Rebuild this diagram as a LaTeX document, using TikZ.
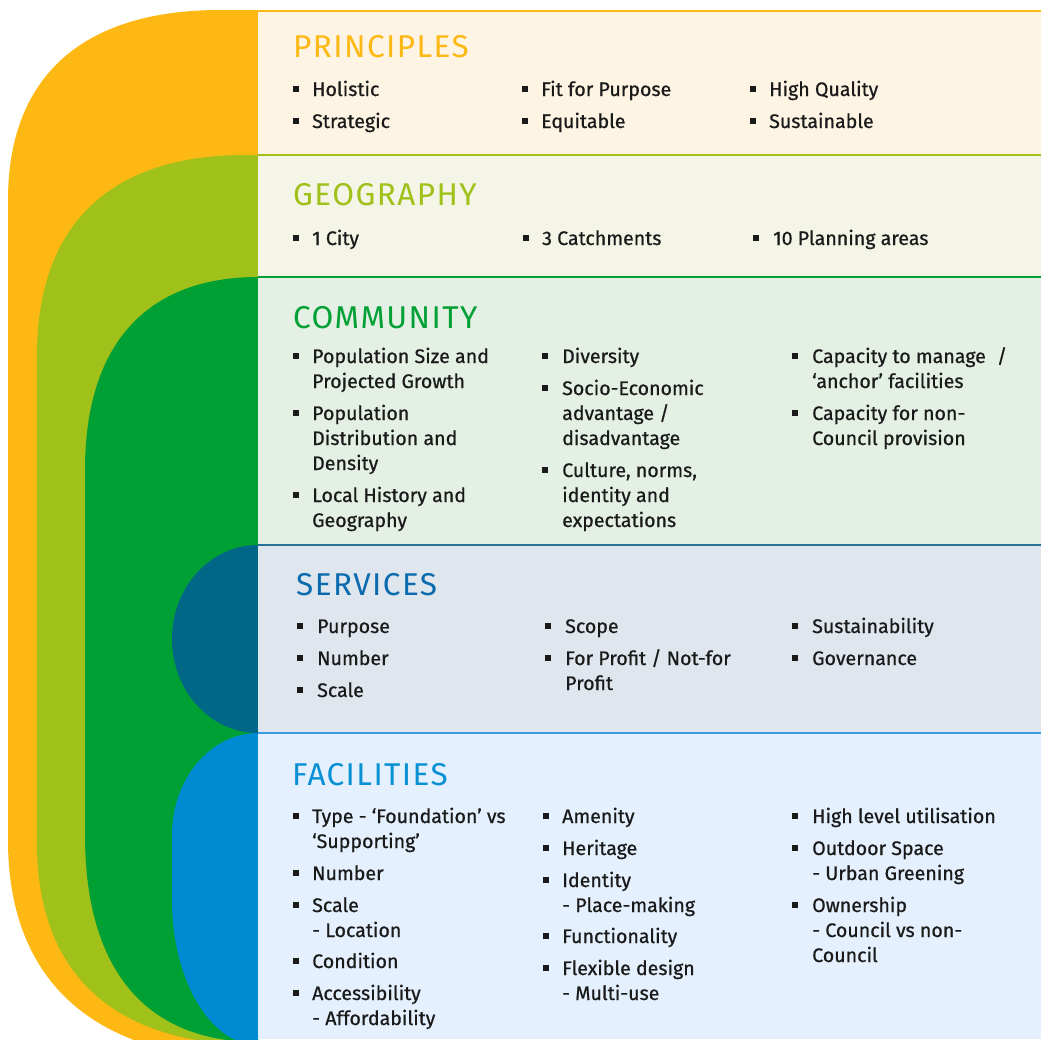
\documentclass[tikz,border=0pt]{standalone}
\usepackage{fontspec}
\setmainfont{Fira Sans}
\newfontfamily\bodyfont{Fira Sans}[FakeBold=0.7]
\newfontfamily\titlefont{Fira Sans}[LetterSpace=4.5]
\definecolor{cOrange}{HTML}{FDB813}
\definecolor{cLime}{HTML}{9FC119}
\definecolor{cGreen}{HTML}{00A035}
\definecolor{cTeal}{HTML}{006886}
\definecolor{cBlue}{HTML}{008AD2}
\definecolor{bgPrin}{HTML}{FEF4E4}
\definecolor{bgGeo}{HTML}{F4F5E7}
\definecolor{bgCom}{HTML}{E5F0E4}
\definecolor{bgSer}{HTML}{DFE6EE}
\definecolor{bgFac}{HTML}{E4F0FD}
\definecolor{tSer}{HTML}{0A6BAE}
\definecolor{tFac}{HTML}{0890D5}
\definecolor{lTeal}{HTML}{2A7396}
\definecolor{lBlue}{HTML}{3A9FE0}
\definecolor{txtcol}{HTML}{1A1A1A}
\newcounter{lc}
\newcommand\tx[3]{\stepcounter{lc}\node[bodytxt] (t\number\value{lc}) at (#1,#2) {#3};}
\newcommand\bu[2]{\fill[txtcol] (#1-3,#2-10) rectangle (#1+3,#2-4);}
\begin{document}
\begin{tikzpicture}[x=1pt,y=-1pt,
  bodytxt/.style={anchor=base west, inner sep=0pt, text=txtcol, font=\bodyfont\fontsize{19.6}{25}\selectfont},
  ttl/.style={anchor=base west, inner sep=0pt, font=\titlefont\fontsize{31.5}{31}\selectfont},
  sepline/.style={line width=1.8pt}]
\useasboundingbox (0,0) rectangle (1041,1039);
% left nested shapes
\fill[cOrange] (258,10) -- (220,10) .. controls (82,10) and (8,77) .. (8,200) -- (8,840)
  .. controls (8,983) and (96,1060) .. (258,1060) -- cycle;
\fill[cLime] (258,155) -- (245,155) .. controls (110,155) and (37,225) .. (37,355) -- (37,843)
  .. controls (37,974) and (114,1045) .. (258,1045) -- cycle;
\fill[cGreen] (258,277) .. controls (146,277) and (85,345) .. (85,470) -- (85,835)
  .. controls (85,970) and (146,1042) .. (258,1042) -- cycle;
\fill[cTeal] (258,545) .. controls (210.5,545) and (172,587) .. (172,639)
  .. controls (172,691) and (210.5,733) .. (258,733) -- cycle;
\fill[cBlue] (258,733) .. controls (210.5,733) and (172,779) .. (172,835) -- (172,900)
  .. controls (172,980) and (210.5,1045) .. (258,1045) -- cycle;
% panels
\fill[bgPrin] (258,10) rectangle (1041,155);
\fill[bgGeo] (258,155) rectangle (1041,277);
\fill[bgCom] (258,277) rectangle (1041,545);
\fill[bgSer] (258,545) rectangle (1041,733);
\fill[bgFac] (258,733) rectangle (1041,1039);
\draw[sepline, cOrange] (258,11) -- (1041,11);
\draw[sepline, cLime] (258,155) -- (1041,155);
\draw[sepline, cGreen] (258,277) -- (1041,277);
\draw[sepline, lTeal] (258,545) -- (1041,545);
\draw[sepline, lBlue] (258,733) -- (1041,733);
% titles
\node[ttl, text=cOrange] (tp) at (293,57) {PRINCIPLES};
\node[ttl, text=cLime] (tg) at (293,205) {GEOGRAPHY};
\node[ttl, text=cGreen] (tc) at (293,328) {COMMUNITY};
\node[ttl, text=tSer] (ts) at (296,595) {SERVICES};
\node[ttl, text=tFac] (tf) at (292,785) {FACILITIES};
% principles
\bu{296}{96}\tx{312}{96}{Holistic}
\bu{296}{128}\tx{312}{128}{Strategic}
\bu{525}{96}\tx{541}{96}{Fit for Purpose}
\bu{525}{128}\tx{541}{128}{Equitable}
\bu{753}{96}\tx{769}{96}{High Quality}
\bu{753}{128}\tx{769}{128}{Sustainable}
% geography
\bu{296}{245}\tx{312}{245}{1 City}
\bu{526}{245}\tx{542}{245}{3 Catchments}
\bu{756}{245}\tx{773}{245}{10 Planning areas}
% community
\bu{296}{363}\tx{312}{363}{Population Size and}
\tx{312}{388}{Projected Growth}
\bu{296}{420}\tx{312}{420}{Population}
\tx{312}{445}{Distribution and}
\tx{312}{470}{Density}
\bu{296}{502}\tx{312}{502}{Local History and}
\tx{312}{527}{Geography}
\bu{545}{363}\tx{562}{363}{Diversity}
\bu{545}{395}\tx{562}{395}{Socio-Economic}
\tx{562}{420}{advantage /}
\tx{562}{445}{disadvantage}
\bu{545}{477}\tx{562}{477}{Culture, norms,}
\tx{562}{502}{identity and}
\tx{562}{527}{expectations}
\bu{795}{363}\tx{812}{363}{Capacity to manage\hspace{0.3em} /}
\tx{812}{388}{‘anchor’ facilities}
\bu{795}{420}\tx{812}{420}{Capacity for non-}
\tx{812}{445}{Council provision}
% services
\bu{300}{633}\tx{317}{633}{Purpose}
\bu{300}{665}\tx{317}{665}{Number}
\bu{300}{697}\tx{317}{697}{Scale}
\bu{548}{633}\tx{565}{633}{Scope}
\bu{548}{665}\tx{565}{665}{For Profit / Not-for}
\tx{565}{690}{Profit}
\bu{795}{633}\tx{812}{633}{Sustainability}
\bu{795}{665}\tx{812}{665}{Governance}
% facilities
\bu{296}{823}\tx{312}{823}{Type - ‘Foundation’ vs}
\tx{312}{848}{‘Supporting’}
\bu{296}{880}\tx{312}{880}{Number}
\bu{296}{912}\tx{312}{912}{Scale}
\tx{312}{937}{- Location}
\bu{296}{968}\tx{312}{968}{Condition}
\bu{296}{1000}\tx{312}{1000}{Accessibility}
\tx{312}{1025}{- Affordability}
\bu{546}{823}\tx{562}{823}{Amenity}
\bu{546}{855}\tx{562}{855}{Heritage}
\bu{546}{887}\tx{562}{887}{Identity}
\tx{562}{912}{- Place-making}
\bu{546}{943}\tx{562}{943}{Functionality}
\bu{546}{975}\tx{562}{975}{Flexible design}
\tx{562}{1000}{- Multi-use}
\bu{795}{823}\tx{812}{823}{High level utilisation}
\bu{795}{855}\tx{812}{855}{Outdoor Space}
\tx{812}{880}{- Urban Greening}
\bu{795}{912}\tx{812}{912}{Ownership}
\tx{812}{937}{- Council vs non-}
\tx{812}{962}{Council}
\end{tikzpicture}
\end{document}
